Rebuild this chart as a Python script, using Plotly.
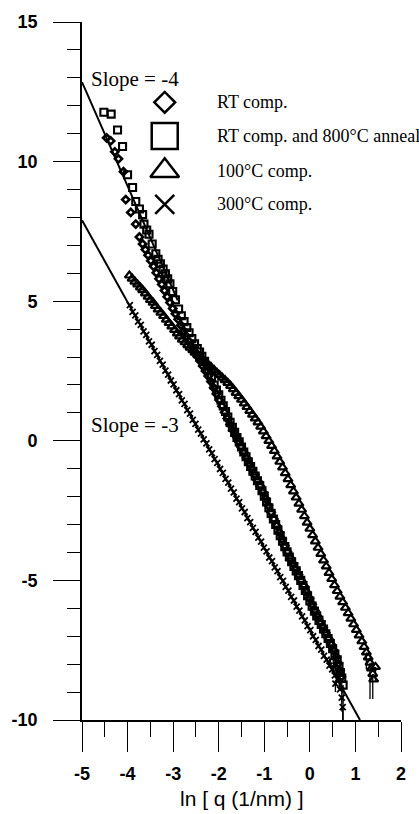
import plotly.graph_objects as go

# ---------------- data ----------------
rt_x = [-4.46, -4.37, -4.28, -4.20, -4.09, -4.04, -3.93, -3.82, -3.74, -3.67, -3.61, -3.55, -3.49, -3.43,
        -3.37, -3.31, -3.25, -3.19, -3.13, -3.07, -3.01, -2.95, -2.89, -2.83, -2.77, -2.71, -2.65, -2.59,
        -2.53, -2.47, -2.41, -2.35, -2.29, -2.23, -2.17, -2.11, -2.05, -1.99, -1.93, -1.87, -1.81, -1.75,
        -1.69, -1.63, -1.57, -1.51, -1.45, -1.39, -1.33, -1.27, -1.21, -1.15, -1.09, -1.03, -0.97, -0.91,
        -0.85, -0.79, -0.73, -0.67, -0.61, -0.55, -0.49, -0.43, -0.37, -0.31, -0.25, -0.19, -0.13, -0.07,
        -0.01, 0.05, 0.11, 0.17, 0.23, 0.29, 0.35, 0.41, 0.47, 0.53, 0.58, 0.62, 0.66, 0.69]
rt_y = [10.85, 10.74, 10.35, 10.10, 9.64, 8.64, 8.18, 7.76, 7.30, 7.05, 6.85, 6.65, 6.45, 6.25,
        6.02, 5.80, 5.60, 5.38, 5.16, 4.95, 4.74, 4.55, 4.35, 4.14, 3.94, 3.75, 3.56, 3.38,
        3.20, 3.03, 2.86, 2.68, 2.50, 2.32, 2.12, 1.90, 1.68, 1.46, 1.24, 1.02, 0.80, 0.58,
        0.38, 0.18, -0.02, -0.22, -0.42, -0.62, -0.82, -1.02, -1.22, -1.42, -1.62, -1.84, -2.08, -2.32,
        -2.56, -2.80, -3.04, -3.28, -3.52, -3.76, -3.98, -4.20, -4.40, -4.60, -4.80, -5.00, -5.20, -5.42,
        -5.64, -5.86, -6.08, -6.28, -6.48, -6.68, -6.88, -7.08, -7.30, -7.52, -7.75, -7.98, -8.22, -8.45]

anneal_x = [-4.52, -4.36, -4.22, -4.11, -4.00, -3.89, -3.82, -3.74, -3.67, -3.64, -3.58, -3.53, -3.46,
            -3.38, -3.33, -3.28, -3.22, -3.17, -3.12, -3.07, -3.01, -2.95, -2.88, -2.82, -2.76, -2.70,
            -2.65, -2.59, -2.53, -2.47, -2.42, -2.37, -2.31, -2.26, -2.22, -2.16, -2.10, -2.05, -2.00,
            -1.95, -1.90, -1.85, -1.80, -1.75, -1.70, -1.65, -1.60, -1.55, -1.50, -1.45, -1.40, -1.35,
            -1.30, -1.25, -1.20, -1.15, -1.10, -1.05, -1.00, -0.95, -0.90, -0.85, -0.80, -0.75, -0.70,
            -0.65, -0.60, -0.55, -0.50, -0.45, -0.40, -0.35, -0.30, -0.25, -0.20, -0.15, -0.10, -0.05,
            0.00, 0.05, 0.10, 0.15, 0.20, 0.25, 0.30, 0.35, 0.40, 0.45, 0.50, 0.55, 0.60, 0.64, 0.67]
anneal_y = [11.77, 11.70, 11.13, 10.54, 9.53, 9.07, 8.57, 8.30, 8.10, 7.76, 7.55, 7.40, 7.05,
            6.70, 6.50, 6.34, 6.15, 5.98, 5.80, 5.62, 5.35, 5.05, 4.72, 4.48, 4.27, 4.06,
            3.87, 3.66, 3.47, 3.30, 3.18, 3.03, 2.85, 2.68, 2.52, 2.28, 2.00, 1.82, 1.65,
            1.45, 1.25, 1.05, 0.85, 0.66, 0.48, 0.30, 0.12, -0.04, -0.22, -0.40, -0.57, -0.75,
            -0.92, -1.09, -1.26, -1.43, -1.60, -1.79, -1.98, -2.19, -2.40, -2.60, -2.80, -3.00, -3.20,
            -3.40, -3.60, -3.79, -3.98, -4.16, -4.33, -4.50, -4.66, -4.83, -5.00, -5.18, -5.36, -5.55,
            -5.74, -5.92, -6.10, -6.27, -6.43, -6.58, -6.74, -6.91, -7.08, -7.26, -7.45, -7.64, -7.84, -8.08, -8.30]
anneal_tail_x = [0.52, 0.58, 0.70, 0.73]
anneal_tail_y = [-7.95, -8.20, -8.50, -8.75]
anneal_tail_err = [0.3, 0.5, 0.9, 1.25]

c100_x = [-3.96, -3.90, -3.84, -3.78, -3.72, -3.67, -3.61, -3.55, -3.50, -3.44, -3.39, -3.33, -3.27,
          -3.21, -3.15, -3.09, -3.03, -2.97, -2.91, -2.86, -2.80, -2.74, -2.68, -2.63, -2.57, -2.52,
          -2.46, -2.40, -2.34, -2.28, -2.22, -2.16, -2.10, -2.04, -1.98, -1.92, -1.86, -1.80, -1.74,
          -1.68, -1.62, -1.56, -1.50, -1.44, -1.38, -1.32, -1.26, -1.20, -1.14, -1.08, -1.02, -0.96,
          -0.90, -0.84, -0.78, -0.72, -0.66, -0.60, -0.54, -0.48, -0.42, -0.36, -0.30, -0.24, -0.18,
          -0.12, -0.06, 0.00, 0.06, 0.12, 0.18, 0.24, 0.30, 0.36, 0.42, 0.48, 0.54, 0.60, 0.66, 0.72,
          0.78, 0.84, 0.90, 0.96, 1.02, 1.08, 1.14, 1.19, 1.28, 1.35, 1.40]
c100_y = [5.92, 5.81, 5.70, 5.60, 5.49, 5.40, 5.28, 5.16, 5.05, 4.95, 4.83, 4.71, 4.59,
          4.47, 4.34, 4.22, 4.10, 3.97, 3.85, 3.74, 3.62, 3.53, 3.43, 3.34, 3.25, 3.16,
          3.07, 2.97, 2.88, 2.79, 2.70, 2.62, 2.53, 2.44, 2.35, 2.26, 2.17, 2.07, 1.97,
          1.85, 1.72, 1.60, 1.47, 1.34, 1.21, 1.07, 0.94, 0.80, 0.66, 0.51, 0.34, 0.17,
          0.00, -0.18, -0.36, -0.56, -0.75, -0.95, -1.16, -1.37, -1.59, -1.81, -2.03, -2.25, -2.47,
          -2.70, -2.93, -3.15, -3.38, -3.60, -3.83, -4.05, -4.28, -4.50, -4.73, -4.95, -5.17, -5.38, -5.58, -5.78,
          -5.98, -6.17, -6.37, -6.57, -6.77, -6.97, -7.18, -7.38, -7.76, -8.15, -8.55]
c100_tail_x = [1.24, 1.32, 1.38, 1.44]
c100_tail_y = [-7.58, -7.95, -8.35, -8.10]
c100_tail_err = [0.6, 1.3, 0.9, 0.5]

c300_x = [-3.95, -3.89, -3.83, -3.77, -3.71, -3.65, -3.59, -3.53, -3.47, -3.41, -3.35, -3.29, -3.23,
          -3.17, -3.11, -3.05, -2.99, -2.93, -2.87, -2.81, -2.75, -2.69, -2.63, -2.57, -2.51, -2.45,
          -2.39, -2.33, -2.27, -2.21, -2.15, -2.09, -2.03, -1.97, -1.91, -1.85, -1.79, -1.73, -1.67,
          -1.61, -1.55, -1.49, -1.43, -1.37, -1.31, -1.25, -1.19, -1.13, -1.07, -1.01, -0.95, -0.89,
          -0.83, -0.77, -0.71, -0.65, -0.59, -0.53, -0.47, -0.41, -0.35, -0.29, -0.23, -0.17, -0.11,
          -0.05, 0.01, 0.07, 0.13, 0.19, 0.25, 0.31, 0.37, 0.43, 0.49, 0.55, 0.61, 0.66]
c300_y = [4.86, 4.62, 4.49, 4.27, 4.15, 3.92, 3.79, 3.56, 3.44, 3.21, 3.08, 2.86, 2.73,
          2.51, 2.37, 2.16, 2.02, 1.81, 1.67, 1.45, 1.32, 1.10, 0.97, 0.75, 0.61, 0.40,
          0.26, 0.05, -0.09, -0.31, -0.44, -0.66, -0.79, -1.01, -1.15, -1.36, -1.50, -1.71, -1.85,
          -2.07, -2.20, -2.42, -2.55, -2.77, -2.91, -3.12, -3.26, -3.47, -3.61, -3.83, -3.96, -4.18,
          -4.31, -4.53, -4.67, -4.88, -5.02, -5.23, -5.37, -5.59, -5.72, -5.94, -6.08, -6.29, -6.43,
          -6.64, -6.78, -7.00, -7.13, -7.35, -7.48, -7.70, -7.84, -8.05, -8.19, -8.40, -8.54, -8.90]
c300_tail_x = [0.56, 0.70, 0.72]
c300_tail_y = [-8.70, -9.20, -9.54]
c300_tail_err = [0.3, 0.5, 0.46]

slope4_x = [-5.0, -2.9]
slope4_y = [12.85, 5.03]
slope3_x = [-5.0, 1.1]
slope3_y = [7.90, -10.0]

legend_labels = ["RT comp.", "RT comp. and 800°C anneal", "100°C comp.", "300°C comp."]
slope_labels = ["Slope = -4", "Slope = -3"]
x_tickvals = [-5, -4, -3, -2, -1, 0, 1, 2]
x_ticktext = ["-5", "-4", "-3", "-2", "-1", "0", "1", "2"]
y_tickvals = [-10, -5, 0, 5, 10, 15]
y_ticktext = ["-10", "-5", "0", "5", "10", "15"]
x_title = "ln [ q (1/nm) ]"

# ---------------- geometry ----------------
W, H = 419, 814
ML, MR, MT, MB = 79, 18, 16, 94
XR = [-5, 2]
YR = [-10, 15]
PW, PH = W - ML - MR, H - MT - MB


def to_data(px, py):
    x = XR[0] + (px - ML) / PW * (XR[1] - XR[0])
    y = YR[1] - (py - MT) / PH * (YR[1] - YR[0])
    return x, y


BLACK = "black"
fig = go.Figure()

# fitted slope lines
for lx, ly in [(slope4_x, slope4_y), (slope3_x, slope3_y)]:
    fig.add_trace(go.Scatter(x=lx, y=ly, mode="lines",
                             line=dict(color=BLACK, width=2), hoverinfo="skip"))


def add_series(x, y, symbol, size, lw, tx=None, ty=None, terr=None):
    fig.add_trace(go.Scatter(x=x, y=y, mode="markers",
                             marker=dict(symbol=symbol, size=size, color=BLACK,
                                         line=dict(color=BLACK, width=lw))))
    if tx:
        fig.add_trace(go.Scatter(x=tx, y=ty, mode="markers",
                                 marker=dict(symbol=symbol, size=size, color=BLACK,
                                             line=dict(color=BLACK, width=lw)),
                                 error_y=dict(type="data", symmetric=False, array=[0] * len(terr),
                                              arrayminus=terr, color=BLACK, thickness=1.3, width=0)))


add_series(c300_x, c300_y, "x-thin-open", 6, 1.8, c300_tail_x, c300_tail_y, c300_tail_err)
add_series(c100_x, c100_y, "triangle-up-open", 8, 2.2, c100_tail_x, c100_tail_y, c100_tail_err)
add_series(anneal_x, anneal_y, "square-open", 7, 2.1, anneal_tail_x, anneal_tail_y, anneal_tail_err)
add_series(rt_x, rt_y, "diamond-open", 5.5, 2.6)

# hand-made legend (large symbols + serif text)
leg_rows = [97, 131, 166, 200]
leg_syms = [("diamond-open", 16), ("square-open", 26), ("triangle-up-open", 25), ("x-thin-open", 19)]
sym_px, text_px = 162.5, 213
for (sym, sz), row in zip(leg_syms, leg_rows):
    lx, ly = to_data(sym_px, row)
    fig.add_trace(go.Scatter(x=[lx], y=[ly], mode="markers",
                             marker=dict(symbol=sym, size=sz, color=BLACK,
                                         line=dict(color=BLACK, width=2.5))))

annotations = []
for label, row in zip(legend_labels, leg_rows):
    tx, ty = to_data(text_px, row)
    annotations.append(dict(x=tx, y=ty, xref="x", yref="y", text=label, showarrow=False,
                            xanchor="left", yanchor="middle",
                            font=dict(family="Liberation Serif", size=18, color=BLACK)))
for label, row in zip(slope_labels, [73, 422]):
    tx, ty = to_data(132.5, row)
    annotations.append(dict(x=tx, y=ty, xref="x", yref="y", text=label, showarrow=False,
                            xanchor="center", yanchor="middle",
                            font=dict(family="Liberation Serif", size=21, color=BLACK)))
annotations.append(dict(x=0.5, y=-(799 - (H - MB)) / PH, xref="paper", yref="paper", text=x_title,
                        showarrow=False, xanchor="center", yanchor="middle",
                        font=dict(family="Liberation Sans", size=21, color=BLACK)))

tickfont = dict(family="Liberation Sans", size=18, color=BLACK, weight="bold")
fig.update_layout(
    width=W, height=H,
    margin=dict(l=ML, r=MR, t=MT, b=MB, pad=0),
    paper_bgcolor="white", plot_bgcolor="white",
    showlegend=False,
    annotations=annotations,
    xaxis=dict(range=XR, tickmode="array", tickvals=x_tickvals, ticktext=x_ticktext,
               ticks="outside", ticklen=30, tickwidth=1.4, tickcolor=BLACK,
               ticklabelstandoff=7,
               minor=dict(tickmode="linear", tick0=-5, dtick=0.5, ticks="outside", ticklen=15,
                          tickwidth=1.4, tickcolor=BLACK, showgrid=False),
               showline=True, linecolor=BLACK, linewidth=1.6, mirror=False,
               showgrid=False, zeroline=False, tickfont=tickfont),
    yaxis=dict(range=YR, tickmode="array", tickvals=y_tickvals, ticktext=y_ticktext,
               ticks="outside", ticklen=27, tickwidth=1.4, tickcolor=BLACK,
               ticklabelstandoff=12,
               minor=dict(tickmode="linear", tick0=-10, dtick=1, ticks="outside", ticklen=13,
                          tickwidth=1.4, tickcolor=BLACK, showgrid=False),
               showline=True, linecolor=BLACK, linewidth=1.6, mirror=False,
               showgrid=False, zeroline=False, tickfont=tickfont),
)

fig.write_html("out.html")
